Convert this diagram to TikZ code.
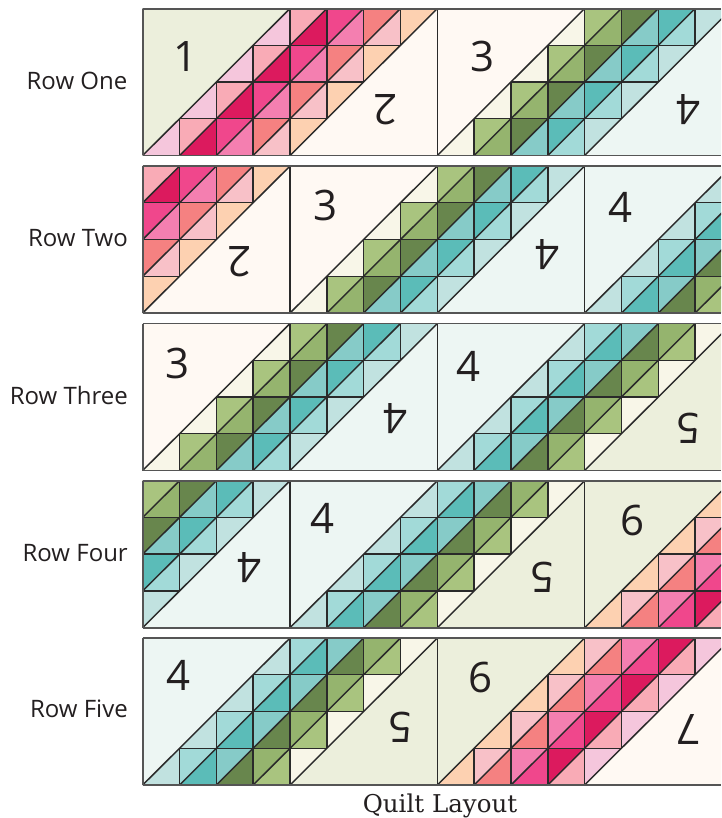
\documentclass[tikz,border=0pt]{standalone}
\usepackage{fontspec}
\setmainfont{Open Sans}
\newfontfamily\capfont{DejaVu Serif}
% pair A: pinks 1-2
\definecolor{A0}{HTML}{F5C6DC}\definecolor{A1}{HTML}{F9ABB6}\definecolor{A2}{HTML}{DC1A5E}\definecolor{A3}{HTML}{F0478C}
\definecolor{A4}{HTML}{F47FB0}\definecolor{A5}{HTML}{F58181}\definecolor{A6}{HTML}{F8C1C8}\definecolor{A7}{HTML}{FDD1B1}
% pair B: greens to teals 3-4
\definecolor{B0}{HTML}{F8F6E8}\definecolor{B1}{HTML}{A9C47F}\definecolor{B2}{HTML}{95B46E}\definecolor{B3}{HTML}{68864D}
\definecolor{B4}{HTML}{86CBC8}\definecolor{B5}{HTML}{5BBCB8}\definecolor{B6}{HTML}{A2DAD8}\definecolor{B7}{HTML}{C1E2E0}
% pair C: teals to greens 4-5
\definecolor{C0}{HTML}{C1E2E0}\definecolor{C1}{HTML}{A2DAD8}\definecolor{C2}{HTML}{5BBCB8}\definecolor{C3}{HTML}{86CBC8}
\definecolor{C4}{HTML}{68864D}\definecolor{C5}{HTML}{95B46E}\definecolor{C6}{HTML}{A9C47F}\definecolor{C7}{HTML}{F8F6E8}
% pair D: peach to pinks 6-7
\definecolor{D0}{HTML}{FDD1B1}\definecolor{D1}{HTML}{F8C1C8}\definecolor{D2}{HTML}{F58181}\definecolor{D3}{HTML}{F47FB0}
\definecolor{D4}{HTML}{F0478C}\definecolor{D5}{HTML}{DC1A5E}\definecolor{D6}{HTML}{F9ABB6}\definecolor{D7}{HTML}{F5C6DC}
\definecolor{bgOlive}{HTML}{ECEFDC}\definecolor{bgCream}{HTML}{FFF9F3}\definecolor{bgMint}{HTML}{EDF6F3}
\definecolor{seam}{HTML}{2A2A2A}\definecolor{frameline}{HTML}{555555}\definecolor{ink}{HTML}{231F20}
\tikzset{
  seamline/.style={draw=seam,line width=1.45pt},
  frameedge/.style={draw=frameline,line width=1.6pt},
  rowlabel/.style={font=\fontsize{24}{26}\selectfont,text=ink,anchor=base east,inner sep=0pt},
  numlabel/.style={font=\fontsize{42}{46}\selectfont,text=ink,inner sep=0pt},
  numflip/.style={numlabel,rotate=180},
  captiontext/.style={font=\capfont\fontsize{24.5}{26}\selectfont,text=ink,anchor=base,inner sep=0pt}
}
% #1 left x, #2 bottom y, #3 colour set, #4 left ground, #5 right ground
\newcommand{\qpair}[5]{%
  \begin{scope}[shift={(#1,#2)},x=36.83pt,y=36.75pt]
    \fill[#4] (0,0) -- (4,4) -- (0,4) -- cycle;
    \fill[#5] (4,0) -- (8,4) -- (8,0) -- cycle;
    \foreach \rr in {0,...,3}{
      \foreach \kk in {0,...,4}{
        \pgfmathtruncatemacro\cc{\rr+\kk}
        \pgfmathtruncatemacro\bl{2*\kk}
        \pgfmathtruncatemacro\bu{2*\kk-1}
        \ifnum\kk<4 \fill[fill=#3\bl] (\cc,\rr) -- (\cc+1,\rr) -- (\cc+1,\rr+1) -- cycle; \fi
        \ifnum\kk>0 \fill[fill=#3\bu] (\cc,\rr) -- (\cc,\rr+1) -- (\cc+1,\rr+1) -- cycle; \fi
      }
    }
    \foreach \kk in {0,...,4}{ \draw[seamline] (\kk,0) -- (\kk+4,4); }
    \foreach \hh in {1,2,3}{ \draw[seamline] (\hh,\hh) -- (\hh+4,\hh); }
    \foreach \vv/\va/\vb in {1/0/1,2/0/2,3/0/3,4/0/4,5/1/4,6/2/4,7/3/4}{ \draw[seamline] (\vv,\va) -- (\vv,\vb); }
    \draw[seamline] (0,0) -- (0,4);
    \draw[seamline] (8,0) -- (8,4);
  \end{scope}}
% #1 top y, #2 bottom y
\newcommand{\qframe}[2]{%
  \draw[frameedge] (142.7,#1) -- (721,#1);
  \draw[frameedge] (142.7,#2) -- (721,#2);
  \draw[frameedge] (142.7,#1) -- (142.7,#2);}
\begin{document}
\begin{tikzpicture}[x=1pt,y=-1pt]
\useasboundingbox (0,0) rectangle (721,818);
\fill[white] (0,0) rectangle (721,818);
% Row 1
\begin{scope}
  \clip (142.7,9) rectangle (721,155.5);
  \qpair{142.7}{155.5}{A}{bgOlive}{bgCream}
  \qpair{437.3}{155.5}{B}{bgCream}{bgMint}
\end{scope}
\qframe{9}{155.5}
% Row 2
\begin{scope}
  \clip (142.7,166) rectangle (721,313);
  \qpair{-4.6}{313}{A}{bgOlive}{bgCream}
  \qpair{290}{313}{B}{bgCream}{bgMint}
  \qpair{584.7}{313}{C}{bgMint}{bgOlive}
\end{scope}
\qframe{166}{313}
% Row 3
\begin{scope}
  \clip (142.7,323.5) rectangle (721,470.5);
  \qpair{142.7}{470.5}{B}{bgCream}{bgMint}
  \qpair{437.3}{470.5}{C}{bgMint}{bgOlive}
\end{scope}
\qframe{323.5}{470.5}
% Row 4
\begin{scope}
  \clip (142.7,480.7) rectangle (721,627.7);
  \qpair{-4.6}{627.7}{B}{bgCream}{bgMint}
  \qpair{290}{627.7}{C}{bgMint}{bgOlive}
  \qpair{584.7}{627.7}{D}{bgOlive}{bgCream}
\end{scope}
\qframe{480.7}{627.7}
% Row 5
\begin{scope}
  \clip (142.7,638) rectangle (721,785);
  \qpair{142.7}{785}{C}{bgMint}{bgOlive}
  \qpair{437.3}{785}{D}{bgOlive}{bgCream}
\end{scope}
\qframe{638}{785}
% Numbers
\node[numlabel] (n11) at (185.5,57) {1};
\node[numflip]  (n12) at (385,110) {2};
\node[numlabel] (n13) at (482,57) {3};
\node[numflip]  (n14) at (688,110) {4};
\node[numflip]  (n22) at (239,262) {2};
\node[numlabel] (n23) at (326,205) {3};
\node[numflip]  (n24) at (547,255) {4};
\node[numlabel] (n25) at (620,207) {4};
\node[numlabel] (n31) at (178,363) {3};
\node[numflip]  (n32) at (395,419) {4};
\node[numlabel] (n33) at (468,366) {4};
\node[numflip]  (n34) at (688,428) {5};
\node[numflip]  (n41) at (249,568) {4};
\node[numlabel] (n42) at (323,518) {4};
\node[numflip]  (n43) at (542,577) {5};
\node[numlabel] (n44) at (632,520) {6};
\node[numlabel] (n51) at (179,675) {4};
\node[numflip]  (n52) at (400,727) {5};
\node[numlabel] (n53) at (480,677) {6};
\node[numflip]  (n54) at (688,729) {7};
% Row labels
\node[rowlabel] (r1) at (127.5,90) {Row One};
\node[rowlabel] (r2) at (128,247) {Row Two};
\node[rowlabel] (r3) at (128,404) {Row Three};
\node[rowlabel] (r4) at (128,561) {Row Four};
\node[rowlabel] (r5) at (128,717) {Row Five};
\node[captiontext] (cap) at (440,812) {Quilt Layout};
\end{tikzpicture}
\end{document}
